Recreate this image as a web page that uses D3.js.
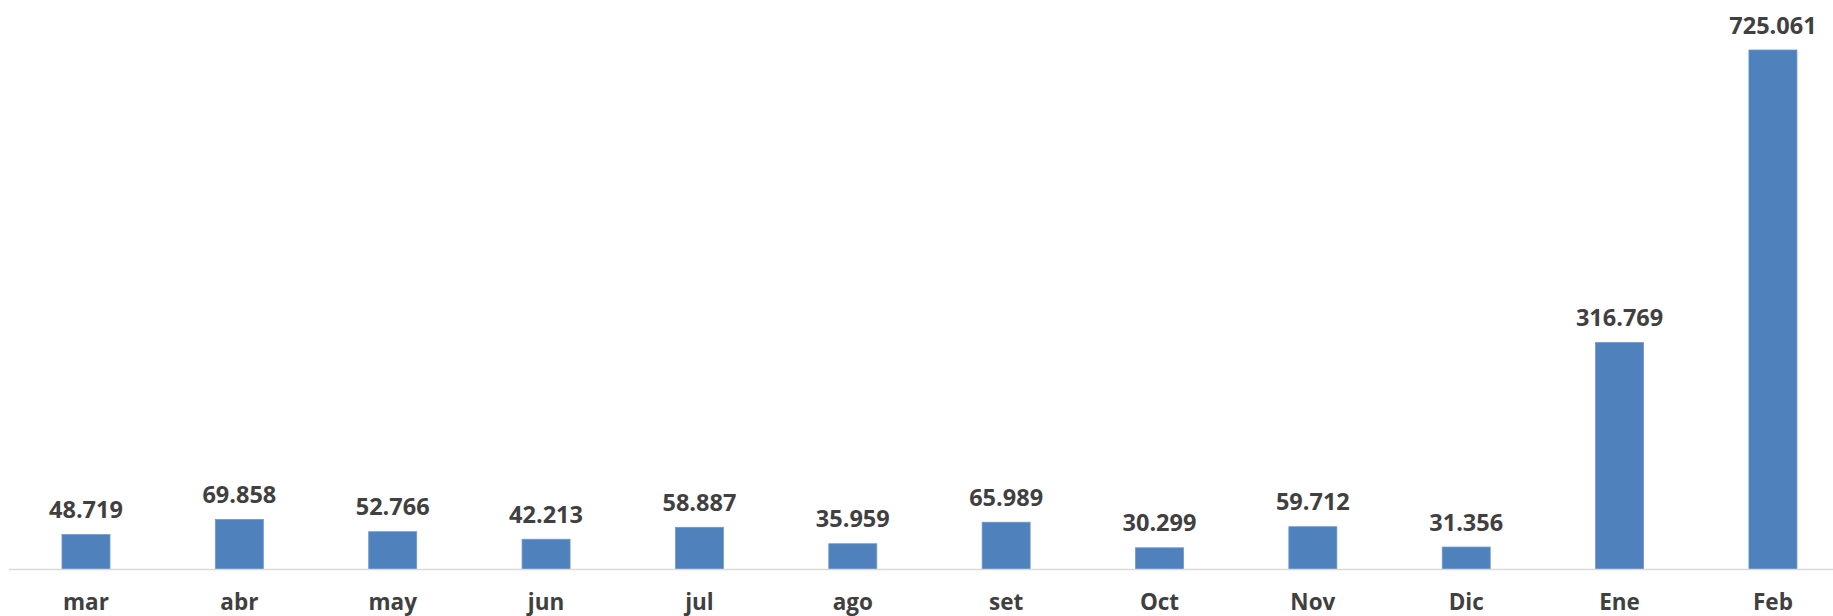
<!DOCTYPE html>
<html lang="es">
  <head>
    <meta charset="UTF-8" />
    <title>Chart</title>
    <style>
      body { margin: 0; background: #fff; }
      text { font-family: "Open Sans", sans-serif; font-weight: bold; fill: #404040; }
    </style>
  </head>
  <body>
    <svg id="svg" width="1833" height="616"></svg>
    <script src="https://d3js.org/d3.v7.min.js"></script>
    <script>
      const months = ["mar", "abr", "may", "jun", "jul", "ago", "set", "Oct", "Nov", "Dic", "Ene", "Feb"];
      const values = [48719, 69858, 52766, 42213, 58887, 35959, 65989, 30299, 59712, 31356, 316769, 725061];

      const svgWidth = 1833;
      const svgHeight = 616;
      const baseY = 569.5;
      const topY = 50;

      const svg = d3.select("#svg");

      // numbers use "." as thousands separator
      const locale = d3.formatLocale({ decimal: ",", thousands: ".", grouping: [3], currency: ["", ""] });
      const fmt = locale.format(",");

      const xScale = d3
        .scaleBand()
        .domain(months)
        .range([9.3, 9.3 + 12 * 153.36])
        .paddingInner(0.687)
        .paddingOuter(0.3435);

      const yScale = d3.scaleLinear().domain([0, 725061]).range([baseY, topY]);

      // bars
      svg
        .append("g")
        .selectAll("rect")
        .data(values)
        .join("rect")
        .attr("x", (d, i) => xScale(months[i]))
        .attr("y", (d) => yScale(d))
        .attr("width", xScale.bandwidth())
        .attr("height", (d) => baseY - yScale(d))
        .attr("fill", "#4F81BD")
        .attr("stroke", "#6E97CB")
        .attr("stroke-width", 0.8);

      // axis line
      svg
        .append("line")
        .attr("x1", 9)
        .attr("x2", svgWidth)
        .attr("y1", baseY)
        .attr("y2", baseY)
        .attr("stroke", "#D9D9D9")
        .attr("stroke-width", 1.5);

      // value labels
      svg
        .append("g")
        .selectAll("text")
        .data(values)
        .join("text")
        .attr("x", (d, i) => xScale(months[i]) + xScale.bandwidth() / 2)
        .attr("y", (d) => yScale(d) - 16.5)
        .attr("text-anchor", "middle")
        .attr("font-size", 23.5)
        .text((d) => fmt(d));

      // category labels
      svg
        .append("g")
        .selectAll("text")
        .data(months)
        .join("text")
        .attr("x", (d) => xScale(d) + xScale.bandwidth() / 2)
        .attr("y", 610)
        .attr("text-anchor", "middle")
        .attr("font-size", 22.5)
        .text((d) => d);
    </script>
  </body>
</html>
